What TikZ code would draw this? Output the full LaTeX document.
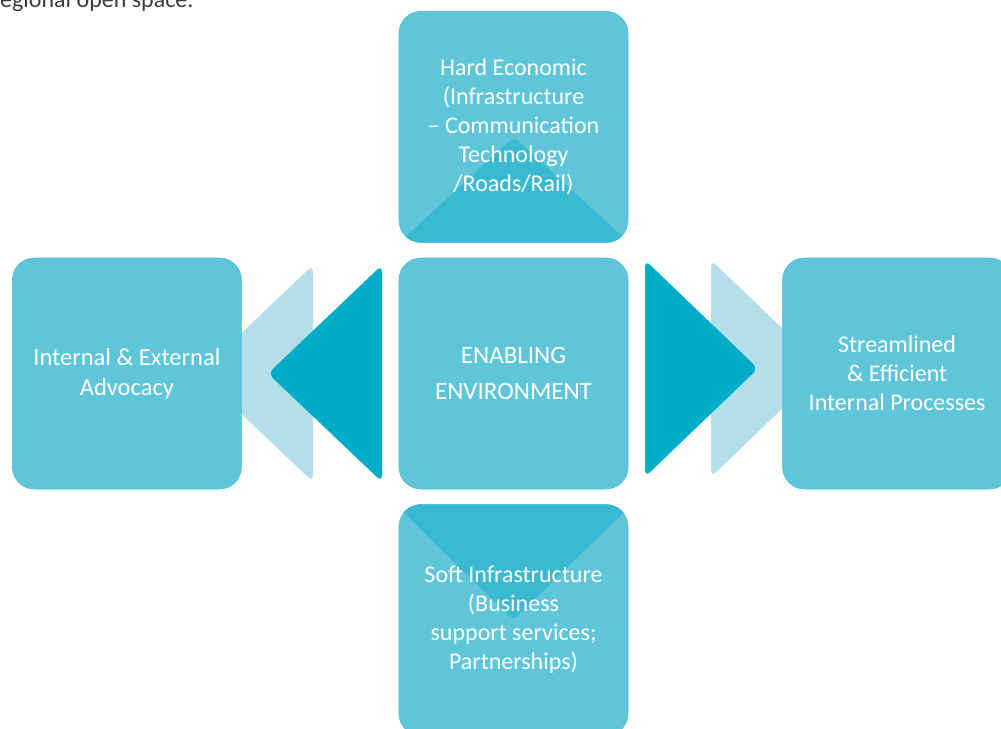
\documentclass[tikz,border=0pt]{standalone}
\usepackage{fontspec}
\setmainfont{Carlito}
\usepackage{xcolor}
\usepackage{tikz}
\usetikzlibrary{positioning}
\definecolor{boxfill}{HTML}{5FC6D9}
\definecolor{boxedge}{HTML}{47BED4}
\definecolor{wedgefill}{HTML}{3ABAD2}
\definecolor{arrowdark}{HTML}{00ADC8}
\definecolor{arrowlight}{HTML}{B4DFEA}
\definecolor{captext}{HTML}{3C3C3C}
\tikzstyle{box} = [rectangle, rounded corners=22pt, minimum width=229pt, minimum height=231pt, fill=boxfill, draw=boxedge, line width=0.6pt, text=white, align=center, inner sep=0pt, font=\fontsize{24}{29}\selectfont]
\tikzstyle{boxtext} = [align=center, text=white, inner sep=0pt, font=\fontsize{24}{29}\selectfont]
\tikzstyle{tri} = [rounded corners=7pt]

\begin{document}
\begin{tikzpicture}[x=1pt, y=-1pt]
            \useasboundingbox (0,0) rectangle (1001,728);

            \node[anchor=base west, text=captext, inner sep=0pt, font=\fontsize{24}{29}\selectfont] (caption) at (0,8) {egional open space.};

            % light arrows, partly behind the side boxes
            \fill[arrowlight, tri] (313,265) -- (313,482) -- (199,373.5) -- cycle;
            \fill[arrowlight, tri] (711,260) -- (711,477) -- (824,368.5) -- cycle;

            \node[box, font=\fontsize{25}{36}\selectfont] (enabling) at (513.5,373.5) {ENABLING\\ENVIRONMENT};
            \node[box, above=15pt of enabling] (hard) {};
            \node[box, below=15pt of enabling] (soft) {};
            \node[box, left=157pt of enabling, font=\fontsize{24.5}{30}\selectfont] (advocacy) {Internal \& External\\Advocacy};
            \node[box, right=154pt of enabling] (internal) {Streamlined\\\& Efficient\\Internal Processes};

            % darker wedges inside top and bottom boxes
            \begin{scope}
                \clip[rounded corners=22pt] (hard.south west) rectangle (hard.north east);
                \fill[wedgefill, rounded corners=5pt] (391,250) -- (514,137) -- (637,250) -- cycle;
            \end{scope}
            \begin{scope}
                \clip[rounded corners=22pt] (soft.south west) rectangle (soft.north east);
                \fill[wedgefill, rounded corners=5pt] (387.5,497) -- (513.5,620) -- (639.5,497) -- cycle;
            \end{scope}
            \node[boxtext] (hardtext) at (hard) {Hard Economic\\(Infrastructure\\-- Communication\\Technology\\/Roads/Rail)};
            \node[boxtext] (softtext) at (soft) {Soft Infrastructure\\(Business\\support services;\\Partnerships)};

            % dark arrows
            \fill[arrowdark, tri] (382,265) -- (382,482) -- (268,373.5) -- cycle;
            \fill[arrowdark, tri] (645,260) -- (645,477) -- (758,368.5) -- cycle;

\end{tikzpicture}
\end{document}
